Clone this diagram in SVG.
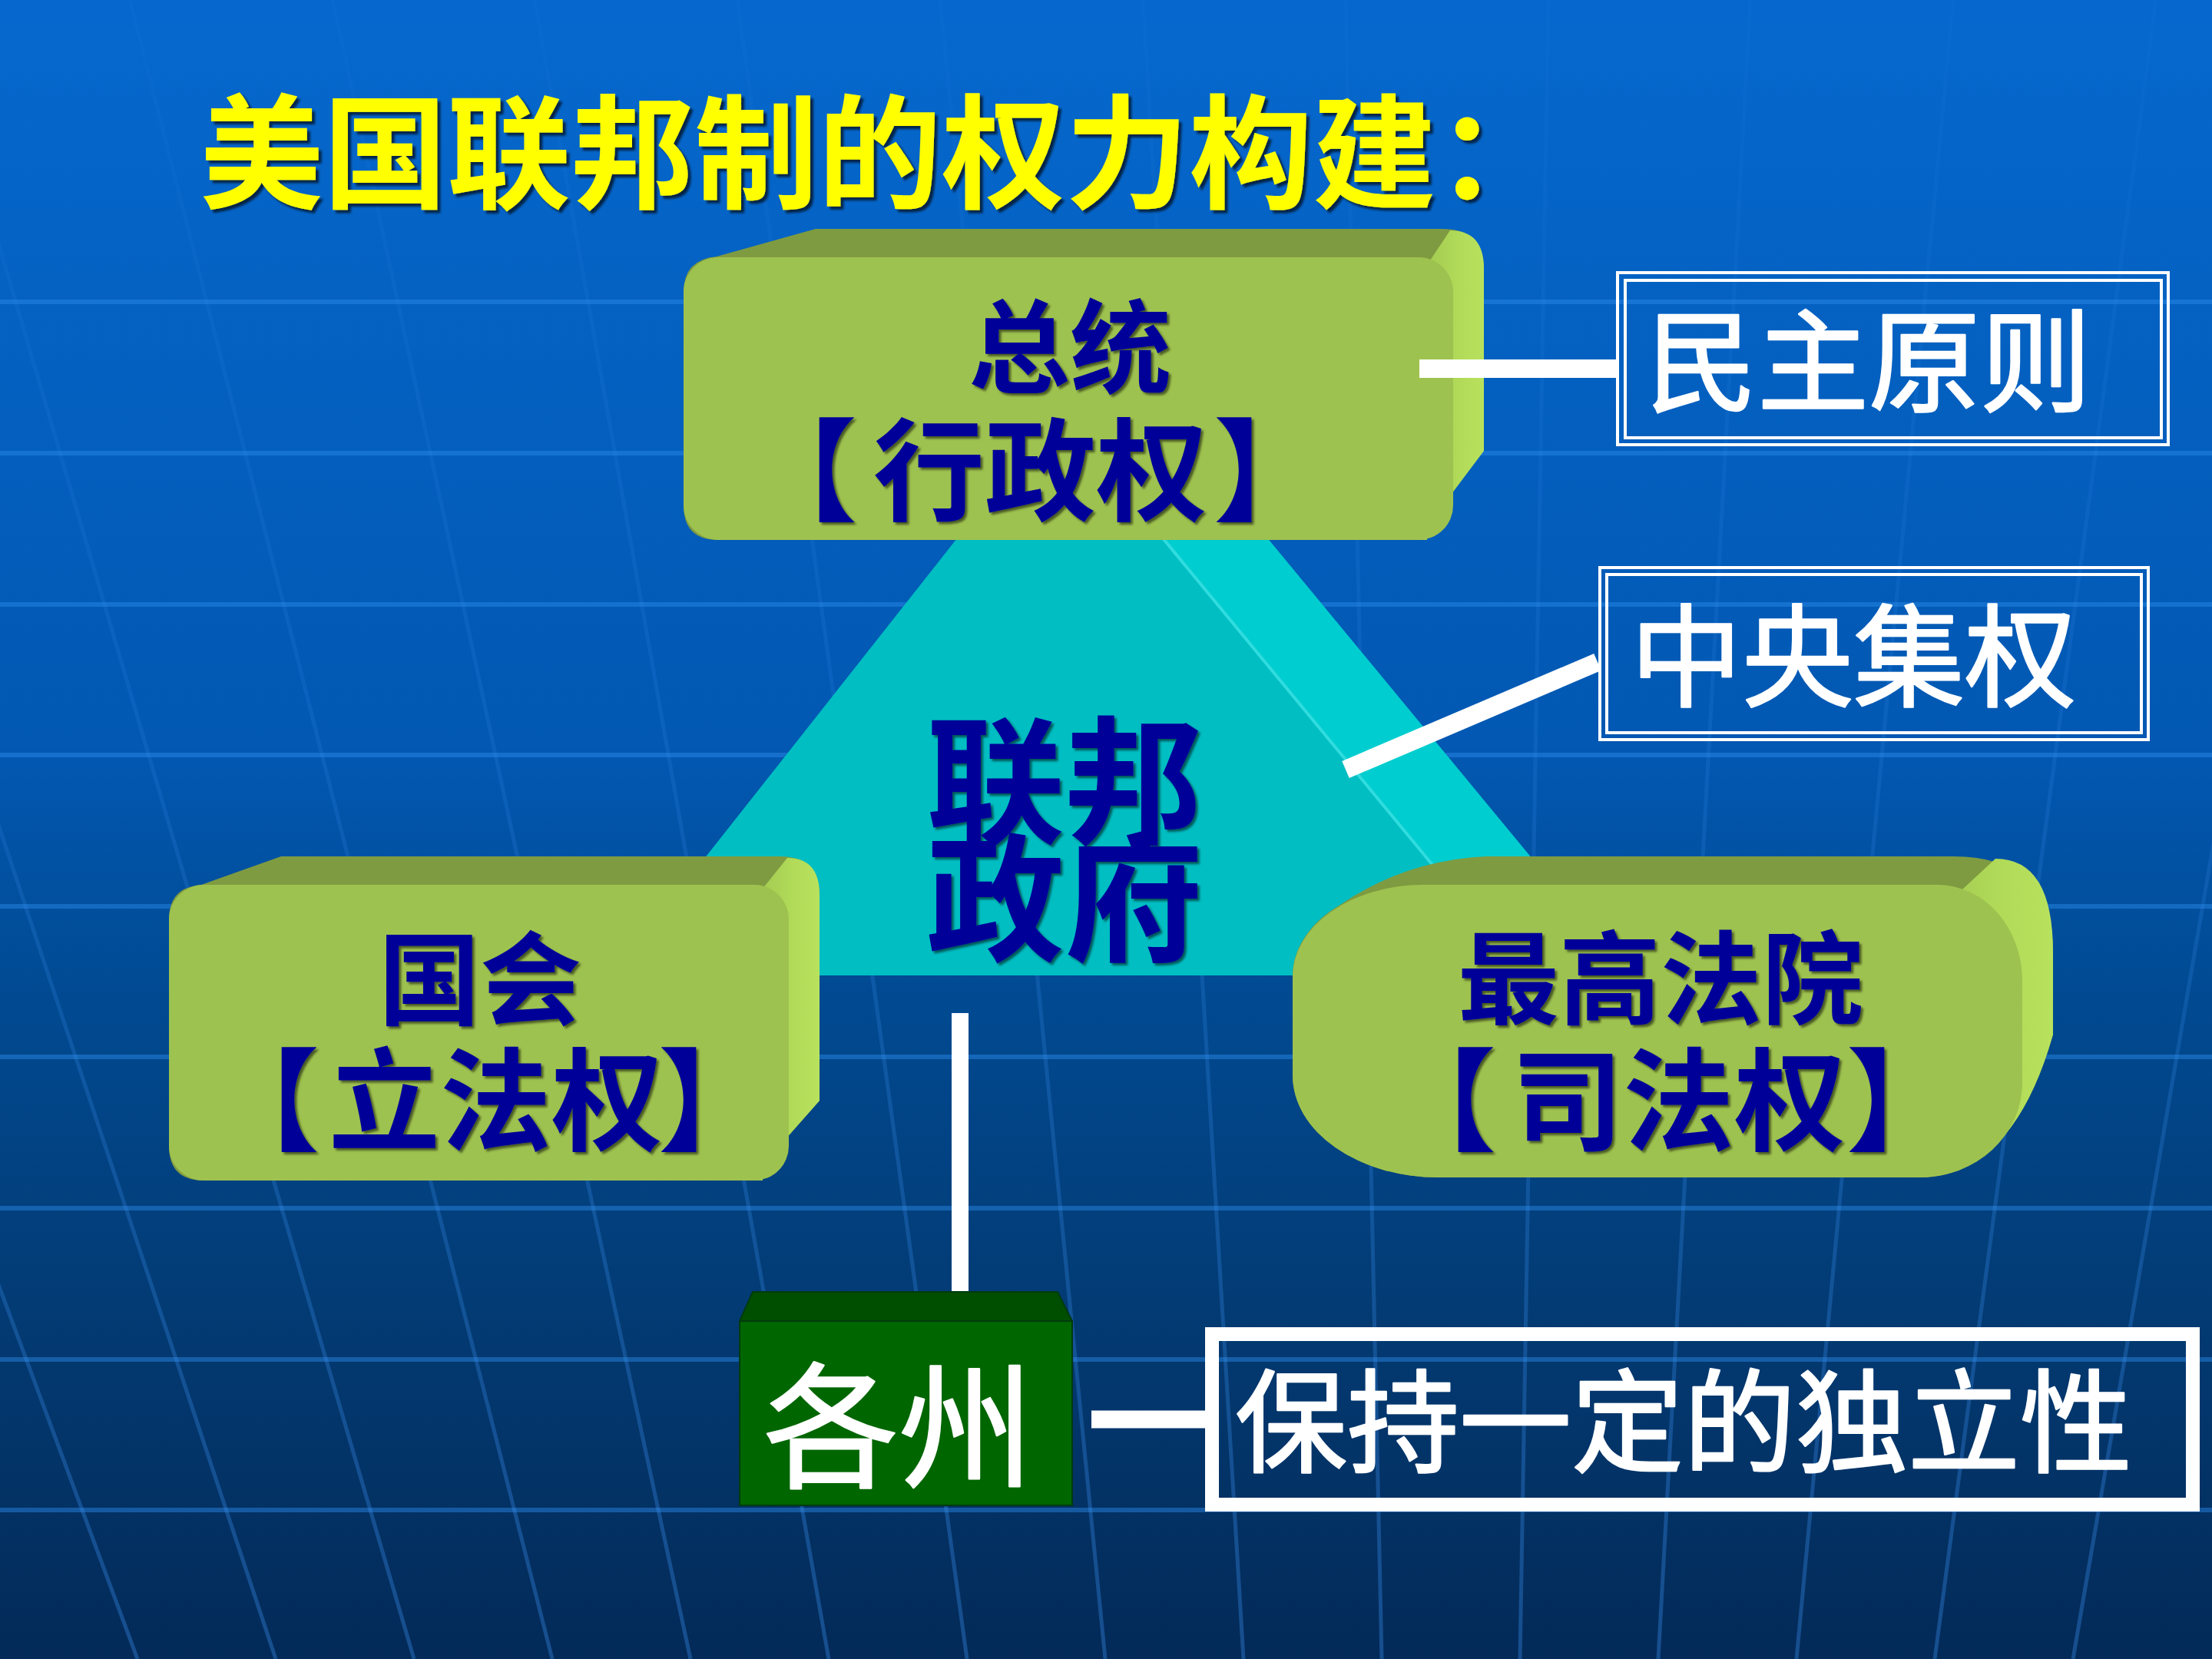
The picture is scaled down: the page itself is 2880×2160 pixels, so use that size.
<svg xmlns="http://www.w3.org/2000/svg" width="2880" height="2160" viewBox="0 0 2880 2160">
<defs>
<linearGradient id="bg" x1="0" y1="0" x2="0" y2="1">
<stop offset="0" stop-color="#0668CE"/>
<stop offset="0.45" stop-color="#0258B2"/>
<stop offset="0.6" stop-color="#014A92"/>
<stop offset="0.8" stop-color="#033A72"/>
<stop offset="1" stop-color="#032A58"/>
</linearGradient>
<linearGradient id="vg" gradientUnits="userSpaceOnUse" x1="0" y1="0" x2="0" y2="2160">
<stop offset="0" stop-color="#3A8FEF" stop-opacity="0.04"/>
<stop offset="0.5" stop-color="#3A8FEF" stop-opacity="0.18"/>
<stop offset="1" stop-color="#3A8FEF" stop-opacity="0.36"/>
</linearGradient>
<linearGradient id="side" x1="0" y1="0" x2="1" y2="0">
<stop offset="0" stop-color="#9FC650"/>
<stop offset="0.6" stop-color="#B0DA58"/>
<stop offset="1" stop-color="#B8E25D"/>
</linearGradient>
<filter id="sh" x="-10%" y="-10%" width="120%" height="130%">
<feDropShadow dx="4" dy="4" stdDeviation="1.5" flood-color="#000000" flood-opacity="0.65"/>
</filter>
<filter id="sh2" x="-10%" y="-10%" width="120%" height="130%">
<feDropShadow dx="3" dy="3" stdDeviation="1.5" flood-color="#000000" flood-opacity="0.55"/>
</filter>
</defs>
<style>
.hl{stroke:#2D8BEA;stroke-opacity:0.45;stroke-width:6;fill:none}
.vl{stroke:url(#vg);stroke-width:5;fill:none}
.top{fill:#7F9B41}
.front{fill:#9EC24F}
.lbl{font-family:'Liberation Sans','Noto Sans CJK SC',sans-serif;font-weight:bold;fill:#000099;filter:url(#sh2)}
.mid{text-anchor:middle}
.wt{font-family:'Liberation Sans','Noto Sans CJK SC',sans-serif;fill:#FFFFFF;text-anchor:middle;stroke:#FFFFFF;stroke-width:2.5;stroke-linejoin:round}
.frame{fill:none;stroke:#FFFFFF;stroke-width:4}
.conn{stroke:#FFFFFF;fill:none;stroke-linecap:butt}
</style>
<rect x="0" y="0" width="2880" height="2160" fill="url(#bg)"/>
<g id="grid">
<line class="hl" x1="0" y1="393" x2="2880" y2="393" stroke-opacity="0.2"/>
<line class="hl" x1="0" y1="590" x2="2880" y2="590"/>
<line class="hl" x1="0" y1="787" x2="2880" y2="787"/>
<line class="hl" x1="0" y1="983" x2="2880" y2="983"/>
<line class="hl" x1="0" y1="1180" x2="2880" y2="1180"/>
<line class="hl" x1="0" y1="1376" x2="2880" y2="1376"/>
<line class="hl" x1="0" y1="1573" x2="2880" y2="1573"/>
<line class="hl" x1="0" y1="1770" x2="2880" y2="1770"/>
<line class="hl" x1="0" y1="1966" x2="2880" y2="1966"/>
<line class="vl" x1="-623" y1="0" x2="179" y2="2160"/>
<line class="vl" x1="-359" y1="0" x2="359" y2="2160"/>
<line class="vl" x1="-95" y1="0" x2="539" y2="2160"/>
<line class="vl" x1="169" y1="0" x2="719" y2="2160"/>
<line class="vl" x1="433" y1="0" x2="899" y2="2160"/>
<line class="vl" x1="696" y1="0" x2="1079" y2="2160"/>
<line class="vl" x1="960" y1="0" x2="1259" y2="2160"/>
<line class="vl" x1="1224" y1="0" x2="1439" y2="2160"/>
<line class="vl" x1="1488" y1="0" x2="1619" y2="2160"/>
<line class="vl" x1="1752" y1="0" x2="1799" y2="2160"/>
<line class="vl" x1="2016" y1="0" x2="1979" y2="2160"/>
<line class="vl" x1="2279" y1="0" x2="2159" y2="2160"/>
<line class="vl" x1="2543" y1="0" x2="2339" y2="2160"/>
<line class="vl" x1="2807" y1="0" x2="2519" y2="2160"/>
<line class="vl" x1="3071" y1="0" x2="2699" y2="2160"/>
</g>
<text id="title" x="260" y="259" font-family="'Liberation Sans','Noto Sans CJK SC',sans-serif" font-weight="bold" font-size="161" fill="#FFFF00" filter="url(#sh)">美国联邦制的权力构建：</text>
<g id="federal">
<polygon points="1377,535 1497,515 2104,1250 1984,1270" fill="#00CDCF"/>
<polygon points="1377,535 797,1270 1984,1270" fill="#00BEC2"/>
<line x1="1377" y1="535" x2="1984" y2="1270" stroke="#30DCDF" stroke-width="4"/>
<text class="lbl mid" font-size="180" filter="url(#sh)"><tspan x="1386" y="1084">联邦</tspan><tspan x="1386" y="1237">政府</tspan></text>
</g>
<g id="president">
<path class="top" d="M890,380 Q890,338 933,334 L1062,298 L1877,298 Q1932,298 1932,350 L1932,587 L1840,703 L935,703 Q890,703 890,658 Z"/>
<path fill="url(#side)" d="M1858,345 L1888,300 Q1932,300 1932,350 L1932,587 L1845,703 L1858,703 Z"/>
<rect class="front" x="890" y="335" width="1002" height="368" rx="45"/>
<text class="lbl mid" x="1393" y="501" font-size="132">总统</text>
<text class="lbl" x="971" y="667" font-size="145">【<tspan dx="21">行政权</tspan><tspan dx="8">】</tspan></text>
</g>
<g id="congress">
<path class="top" d="M220,1197 Q220,1155 262,1152 L366,1115 L1015,1115 Q1067,1115 1067,1165 L1067,1433 L975,1537 L265,1537 Q220,1537 220,1492 Z"/>
<path fill="url(#side)" d="M993,1157 L1025,1117 Q1067,1117 1067,1165 L1067,1433 L975,1537 L993,1537 Z"/>
<rect class="front" x="220" y="1152" width="807" height="385" rx="45"/>
<text class="lbl mid" x="625" y="1324" font-size="132">国会</text>
<text class="lbl" x="271" y="1487" font-size="145">【<tspan dx="12">立法权</tspan><tspan dx="-6">】</tspan></text>
</g>
<g id="court">
<path class="top" d="M1683,1400 L1683,1272 A170,120 0 0 1 1745,1178 Q1830,1120 1935,1115 L2543,1115 Q2673,1115 2673,1240 L2673,1347 Q2620,1533 2497,1533 L1873,1533 A190,133 0 0 1 1683,1400 Z"/>
<path fill="url(#side)" d="M2555,1158 L2598,1118 Q2673,1118 2673,1240 L2673,1347 Q2620,1533 2497,1533 L2497,1400 Z"/>
<path class="front" d="M1853,1152 L2523,1152 A110,125 0 0 1 2633,1277 L2633,1410 A133,123 0 0 1 2500,1533 L1873,1533 A190,133 0 0 1 1683,1400 L1683,1272 A170,120 0 0 1 1853,1152 Z"/>
<text class="lbl mid" x="2162" y="1323" font-size="132">最高法院</text>
<text class="lbl" x="1803" y="1487" font-size="145">【<tspan dx="20">司法权</tspan><tspan dx="1">】</tspan></text>
</g>
<g id="connectors">
<line class="conn" x1="1848" y1="480" x2="2108" y2="480" stroke-width="24"/>
<line class="conn" x1="1752" y1="1002" x2="2080" y2="862" stroke-width="24"/>
<line class="conn" x1="1250" y1="1319" x2="1250" y2="1684" stroke-width="22"/>
<line class="conn" x1="1421" y1="1848" x2="1578" y2="1848" stroke-width="23"/>
</g>
<g id="states">
<polygon points="963,1720 980,1682 1377,1682 1396,1720" fill="#004F00" stroke="#003A10" stroke-width="2"/>
<rect x="963" y="1720" width="433" height="240" fill="#006600" stroke="#003A10" stroke-width="2"/>
<text class="wt" x="1170" y="1923" font-size="176">各州</text>
</g>
<g id="democracy">
<rect class="frame" x="2106" y="355" width="717" height="224"/>
<rect class="frame" x="2116" y="365" width="698" height="205"/>
<text class="wt" x="2433" y="525" font-size="145">民主原则</text>
</g>
<g id="centralization">
<rect class="frame" x="2083" y="739" width="714" height="224"/>
<rect class="frame" x="2092" y="748" width="696" height="206"/>
<text class="wt" x="2413" y="909" font-size="145">中央集权</text>
</g>
<g id="independence">
<rect x="1578" y="1737" width="1277" height="222" fill="none" stroke="#FFFFFF" stroke-width="18"/>
<text class="wt" x="2192" y="1905" font-size="146">保持一定的独立性</text>
</g>
</svg>
